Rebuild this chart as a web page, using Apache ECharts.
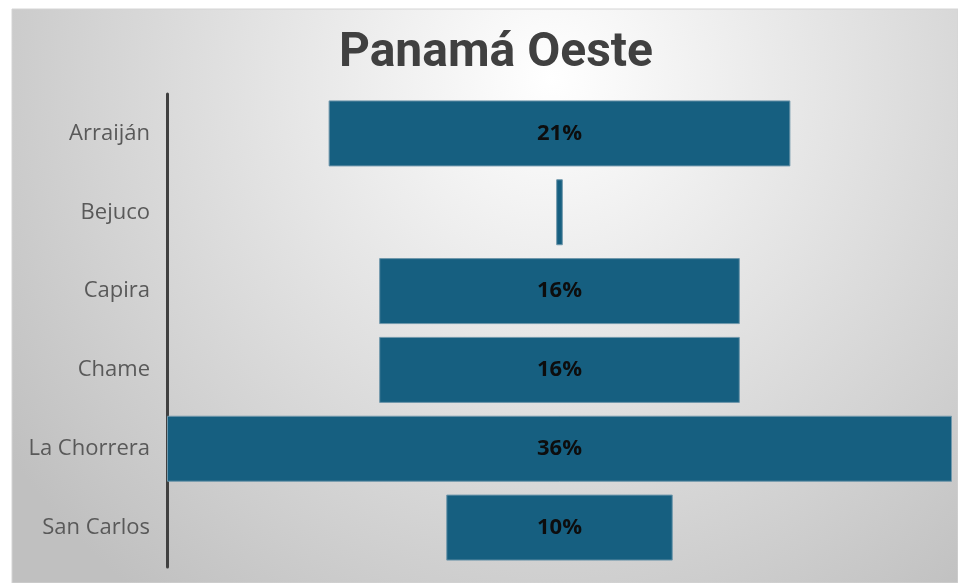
<!DOCTYPE html>
<html><head><meta charset="utf-8">
<script src="https://cdn.jsdelivr.net/npm/echarts@6/dist/echarts.min.js"></script>
<style>html,body{margin:0;padding:0;background:#fff}#c{width:958px;height:583px}</style>
</head><body><div id="c"></div>
<script>
var categories = ['Arraiján', 'Bejuco', 'Capira', 'Chame', 'La Chorrera', 'San Carlos'];
var shares = [21.0, 0.3, 16.4, 16.4, 35.7, 10.3];
var titleText = 'Panamá Oeste';

var maxV = Math.max.apply(null, shares);
var offsets = shares.map(function (v) { return (maxV - v) / 2; });

var chart = echarts.init(document.getElementById('c'), null, {renderer: 'canvas'});
chart.setOption({
  backgroundColor: '#ffffff',
  animation: false,
  graphic: [{
    type: 'rect', z: -10, silent: true,
    shape: {x: 12, y: 9, width: 946, height: 574},
    style: {
      fill: {type: 'radial', x: 0.57, y: 0.12, r: 1.15,
        colorStops: [{offset: 0, color: '#ffffff'}, {offset: 1, color: '#c0c0c0'}]},
      stroke: '#d4d4d4', lineWidth: 1
    }
  }],
  title: {
    text: titleText, left: 491, top: 25, textAlign: 'center',
    textStyle: {fontFamily: 'Roboto', fontWeight: 'bold', fontSize: 48, color: '#404040'}
  },
  grid: {left: 167, right: 6, top: 94, bottom: 16, containLabel: false},
  xAxis: {type: 'value', min: 0, max: maxV, show: false},
  yAxis: {
    type: 'category', data: categories, inverse: true,
    axisLine: {show: true, lineStyle: {color: '#404040', width: 3}},
    axisTick: {show: false},
    axisLabel: {fontFamily: 'Open Sans', fontSize: 22, color: '#595959', margin: 17}
  },
  series: [{
    type: 'bar', stack: 's', data: offsets, barWidth: 66, silent: true,
    itemStyle: {color: 'transparent'}
  }, {
    type: 'bar', stack: 's', data: shares, barWidth: 66,
    itemStyle: {color: '#165f80', borderColor: '#6f97ab', borderWidth: 1},
    label: {
      show: true, position: 'inside', color: '#0d0d0d',
      fontFamily: 'Open Sans', fontWeight: 'bold', fontSize: 22,
      formatter: function (p) { return p.value >= 1 ? Math.round(p.value) + '%' : ''; }
    }
  }]
});
</script></body></html>
